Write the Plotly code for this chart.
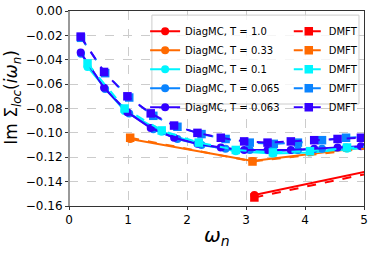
import plotly.graph_objects as go

# Matsubara frequencies and Im Sigma_loc values
w_T1 = [3.142, 9.425]
diag_T1 = [-0.151, -0.087]
dmft_T1 = [-0.153, -0.089]

w_T033 = [1.037, 3.110, 5.184]
diag_T033 = [-0.105, -0.123, -0.111]
dmft_T033 = [-0.104, -0.1235, -0.112]

w_T01 = [0.314, 0.942, 1.571, 2.199, 2.827, 3.456, 4.084, 4.712, 5.341]
diag_T01 = [-0.046, -0.082, -0.099, -0.109, -0.115, -0.117, -0.116, -0.113, -0.111]
dmft_T01 = [-0.043, -0.080, -0.098, -0.108, -0.114, -0.116, -0.115, -0.112, -0.110]

w_T0065 = [0.204, 0.613, 1.021, 1.429, 1.838, 2.246, 2.654, 3.063, 3.471, 3.880, 4.288, 4.696, 5.105]
diag_T0065 = [-0.035, -0.064, -0.084, -0.097, -0.105, -0.110, -0.113, -0.114, -0.115, -0.114, -0.113, -0.112, -0.111]
dmft_T0065 = [-0.022, -0.051, -0.071, -0.086, -0.095, -0.101, -0.105, -0.108, -0.109, -0.108, -0.106, -0.104, -0.103]

w_T0063 = [0.198, 0.594, 0.990, 1.385, 1.781, 2.177, 2.573, 2.969, 3.365, 3.760, 4.156, 4.552, 4.948]
diag_T0063 = [-0.034, -0.063, -0.083, -0.096, -0.104, -0.109, -0.112, -0.114, -0.114, -0.114, -0.113, -0.112, -0.111]
dmft_T0063 = [-0.021, -0.050, -0.070, -0.084, -0.094, -0.100, -0.104, -0.107, -0.108, -0.107, -0.106, -0.105, -0.104]

labels = ["DiagMC, T = 1.0", "DiagMC, T = 0.33", "DiagMC, T = 0.1",
          "DiagMC, T = 0.065", "DiagMC, T = 0.063"]
colors = ["#ff0000", "#ff6a00", "#00f5ff", "#0a84ff", "#3300ff"]

series = [
    (w_T1, diag_T1, dmft_T1),
    (w_T033, diag_T033, dmft_T033),
    (w_T01, diag_T01, dmft_T01),
    (w_T0065, diag_T0065, dmft_T0065),
    (w_T0063, diag_T0063, dmft_T0063),
]

fig = go.Figure()
for (w, d, m), lab, c in zip(series, labels, colors):
    fig.add_trace(go.Scatter(
        x=w, y=d, mode="lines+markers", name=lab,
        line=dict(color=c, width=2),
        marker=dict(symbol="circle", size=8, color=c),
        legend="legend"))
for (w, d, m), lab, c in zip(series, labels, colors):
    fig.add_trace(go.Scatter(
        x=w, y=m, mode="lines+markers", name="DMFT",
        line=dict(color=c, width=2, dash="dash"),
        marker=dict(symbol="square", size=8.5, color=c),
        legend="legend2"))

legend_common = dict(
    font=dict(family="DejaVu Sans", size=10, color="#000"),
    bgcolor="rgba(0,0,0,0)", borderwidth=0,
    xanchor="left", yanchor="top", tracegroupgap=0,
    itemwidth=30,
)

fig.update_layout(
    width=374, height=253,
    margin=dict(l=69, r=10, t=11, b=47, autoexpand=False),
    plot_bgcolor="white", paper_bgcolor="white",
    font=dict(family="DejaVu Sans", size=12, color="#000"),
    showlegend=True,
    legend=dict(x=0.258, y=0.97, **legend_common),
    legend2=dict(x=0.745, y=0.97, **legend_common),
    xaxis=dict(
        range=[0, 5], tickvals=[0, 1, 2, 3, 4, 5],
        showgrid=True, gridcolor="#cccccc", griddash="dash", gridwidth=1,
        showline=True, linecolor="#333", linewidth=1, mirror=True,
        ticks="outside", ticklen=3, tickcolor="#333",
        zeroline=False, automargin=False,
    ),
    yaxis=dict(
        range=[-0.16, 0.0], tickvals=[-0.16, -0.14, -0.12, -0.10, -0.08, -0.06, -0.04, -0.02, 0.0],
        tickformat=".2f",
        showgrid=True, gridcolor="#cccccc", griddash="dash", gridwidth=1,
        showline=True, linecolor="#333", linewidth=1, mirror=True,
        ticks="outside", ticklen=3, tickcolor="#333",
        zeroline=False, automargin=False,
    ),
    annotations=[
        dict(text="<i>ω<sub>n</sub></i>", xref="paper", yref="paper", x=0.5, y=-0.155,
             xanchor="center", yanchor="middle", showarrow=False, font=dict(size=20)),
        dict(text="Im Σ<sub><i>loc</i></sub>(<i>iω<sub>n</sub></i>)", xref="paper", yref="paper",
             x=-0.19, y=0.56, xanchor="center", yanchor="middle", textangle=-90,
             showarrow=False, font=dict(size=17)),
    ],
    shapes=[
        dict(type="rect", xref="paper", yref="paper", x0=0.281, x1=0.983, y0=0.523, y1=0.979,
             line=dict(color="#cccccc", width=1), fillcolor="rgba(255,255,255,0.8)", layer="above"),
        dict(type="line", xref="paper", yref="paper", x0=0, x1=0, y0=0, y1=1,
             line=dict(color="#999999", width=2)),
    ],
)

fig.write_html("out.html", config={"displayModeBar": False})

# remove default page margins so the figure sits at the window origin
with open("out.html", "r", encoding="utf-8") as f:
    html = f.read()
html = html.replace("<head>", "<head><style>html,body{margin:0;padding:0;overflow:hidden;}</style>", 1)
with open("out.html", "w", encoding="utf-8") as f:
    f.write(html)
